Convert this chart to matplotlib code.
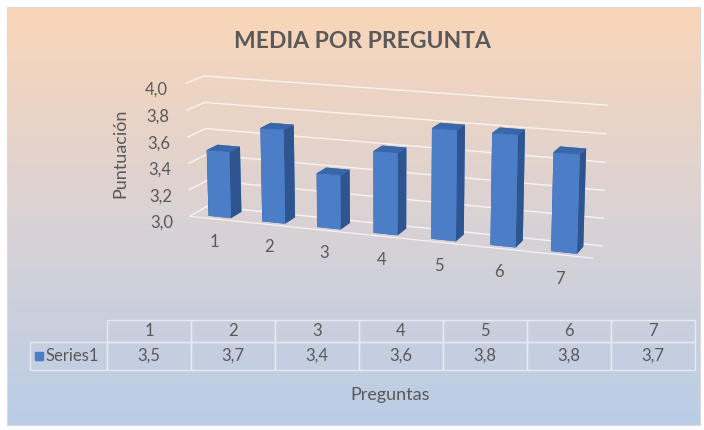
import numpy as np
import matplotlib.pyplot as plt
from matplotlib.ticker import FuncFormatter
from matplotlib.table import Table

# ---- data ----
preguntas = [1, 2, 3, 4, 5, 6, 7]
puntuacion = [3.5, 3.7, 3.4, 3.6, 3.8, 3.8, 3.7]
z_ticks = [3.0, 3.2, 3.4, 3.6, 3.8, 4.0]
title = "MEDIA POR PREGUNTA"
series_name = "Series1"
xlabel = "Preguntas"
ylabel = "Puntuación"

W, H = 704, 430
FONT = ["Lato", "DejaVu Sans"]
TXT = "#595959"
plt.rcParams['font.family'] = FONT

fig = plt.figure(figsize=(W / 100, H / 100), dpi=100)
fig.patch.set_facecolor('white')

# ---- gradient background of chart area ----
bg = fig.add_axes([7 / W, 5 / H, 693 / W, 418 / H])
top = np.array([250, 214, 184]) / 255
mid = np.array([218, 210, 212]) / 255
bot = np.array([186, 205, 231]) / 255
t = np.linspace(0, 1, 256)[:, None]
grad = np.where(t < 0.5, top + (mid - top) * (t / 0.5), mid + (bot - mid) * ((t - 0.5) / 0.5))
bg.imshow(grad[:, None, :], aspect='auto', extent=[0, 1, 0, 1], origin='upper')
bg.set_xticks([]); bg.set_yticks([])
for s in bg.spines.values():
    s.set_color('#d9d9d9'); s.set_linewidth(0.8)
bg.set_zorder(0)

# ---- 3D bars ----
cx, cy, side = 384, 169, 440
ax = fig.add_axes([(cx - side / 2) / W, 1 - (cy + side / 2) / H, side / W, side / H],
                  projection='3d')
ax.set_proj_type('persp', focal_length=0.7)
ax.set_zorder(1)
ax.patch.set_alpha(0)
ax.set_facecolor((0, 0, 0, 0))

depth = 0.7
xs = np.array(preguntas, dtype=float)
vals = np.array(puntuacion)
bw = 0.42
face_cols = ['#3a67aa', '#3a67aa', '#4b7ec6', '#4b7ec6', '#2e5590', '#2e5590']
for x, v in zip(xs, vals):
    ax.bar3d(x - bw / 2, depth / 2 - bw / 2, 3.0, bw, bw, v - 3.0, color=face_cols,
             shade=False, edgecolor='none')

ax.set_xlim(0.5, 7.5)
ax.set_ylim(0, depth)
ax.set_zlim(3.0, 4.0)
ax.set_box_aspect((7, depth, 2.3), zoom=1.0)
ax.view_init(elev=14, azim=-70)

for axis in (ax.xaxis, ax.yaxis, ax.zaxis):
    axis.set_pane_color((1, 1, 1, 0))
    axis.pane.set_edgecolor((1, 1, 1, 0))
    axis._axinfo['tick']['inward_factor'] = 0
    axis._axinfo['tick']['outward_factor'] = 0
ax.xaxis._axinfo['grid']['linewidth'] = 0
ax.yaxis._axinfo['grid']['linewidth'] = 0
ax.zaxis._axinfo['grid']['color'] = (1, 1, 1, 0.75)
ax.zaxis._axinfo['grid']['linewidth'] = 1.0
ax.yaxis.line.set_color((0, 0, 0, 0))
ax.zaxis.line.set_color((0, 0, 0, 0))
ax.xaxis.line.set_color((1, 1, 1, 0.8))
ax.zaxis.set_ticks_position('lower')
ax.set_yticks([])
ax.set_xticks(preguntas)
ax.set_xticklabels([str(p) for p in preguntas])
ax.set_zticks(z_ticks)
ax.zaxis.set_major_formatter(FuncFormatter(lambda v, p: f"{v:.1f}".replace('.', ',')))
ax.tick_params(axis='x', colors=TXT, labelsize=12, pad=9)
ax.tick_params(axis='z', colors=TXT, labelsize=12, pad=4)

# ---- texts ----
fig.text(362 / W, 1 - 42 / H, title, ha='center', va='center', fontsize=16.5,
         fontweight='bold', color=TXT)
fig.text(120 / W, 1 - 153 / H, ylabel, ha='center', va='center', rotation=90,
         fontsize=13, color=TXT)
fig.text(390 / W, 1 - 395 / H, xlabel, ha='center', va='center', fontsize=13, color=TXT)

# ---- data table ----
tl, tr, tt, tb = 30, 695, 320, 370
tax = fig.add_axes([tl / W, 1 - tb / H, (tr - tl) / W, (tb - tt) / H])
tax.set_zorder(2)
tax.axis('off')
tbl = Table(tax, bbox=[0, 0, 1, 1])
wl = 77 / (tr - tl)
wd = 84 / (tr - tl)
h0 = 22 / (tb - tt)
h1 = 28 / (tb - tt)
edge = (0.9, 0.92, 0.95)
corner = tbl.add_cell(0, 0, wl, h0, text='', edgecolor=edge, facecolor='none')
corner.visible_edges = ''
tbl.add_cell(1, 0, wl, h1, text=series_name, loc='right', edgecolor=edge, facecolor='none')
for j, (q, v) in enumerate(zip(preguntas, puntuacion), start=1):
    tbl.add_cell(0, j, wd, h0, text=str(q), loc='center', edgecolor=edge, facecolor='none')
    tbl.add_cell(1, j, wd, h1, text=f"{v:.1f}".replace('.', ','), loc='center',
                 edgecolor=edge, facecolor='none')
tbl.auto_set_font_size(False)
tbl.set_fontsize(12)
for cell in tbl.get_celld().values():
    cell.get_text().set_color(TXT)
    cell.set_linewidth(1.0)
tax.add_table(tbl)
tax.plot([(39 - tl) / (tr - tl)], [(tb - 356) / (tb - tt)], marker='s', markersize=5.5,
         color='#4b7ec6', transform=tax.transAxes, clip_on=False)

fig.savefig('out.png', dpi=100, facecolor='white')
